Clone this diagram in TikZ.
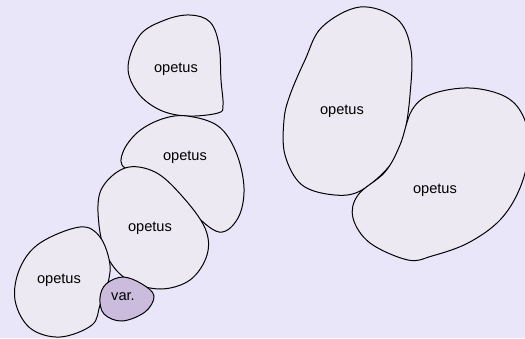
\documentclass[tikz,border=0pt]{standalone}
\usepackage{fontspec}
\setmainfont{Liberation Sans}
\definecolor{bgc}{HTML}{E9E6FA}
\definecolor{blobc}{HTML}{EDE9F2}
\definecolor{varc}{HTML}{CBBCDD}
\tikzset{
  blob/.style={draw=black, line width=1pt, fill=blobc},
  varblob/.style={draw=black, line width=1pt, fill=varc},
  lbl/.style={font=\fontsize{14.6}{16}\selectfont, inner sep=0pt},
}
\begin{document}
\begin{tikzpicture}[x=1pt,y=-1pt]
\fill[bgc] (0,0) rectangle (525,338);
\useasboundingbox (0,0) rectangle (525,338);
% top middle blob
\draw[blob] plot[smooth cycle, tension=0.6] coordinates {(190,15) (210,22) (219,45) (221,80) (223,105) (218,113) (187,116) (160,110) (138,93) (128,67) (140,35) (165,20)};
% blob 2
\draw[blob] plot[smooth cycle, tension=0.6] coordinates {(187,116) (218,126) (236,152) (244,188) (238,218) (219,232) (190,210) (160,178) (125,168) (123,152) (138,132) (162,119)};
% blob 3
\draw[blob] plot[smooth cycle, tension=0.6] coordinates {(125,168) (155,172) (182,196) (205,228) (207,255) (190,280) (160,289) (128,280) (108,258) (99,225) (101,190)};
% blob 4
\draw[blob] plot[smooth cycle, tension=0.6] coordinates {(80,227) (100,237) (110,265) (106,290) (100,305) (92,325) (60,337) (30,328) (15,300) (20,268) (40,243)};
% var blob
\draw[varblob] plot[smooth cycle, tension=0.6] coordinates {(123,277) (142,284) (154,296) (145,312) (122,321) (104,314) (100,298) (106,284)};
% blob 5
\draw[blob] plot[smooth cycle, tension=0.6] coordinates {(360,7) (397,19) (411,50) (410,95) (404,135) (392,163) (362,190) (335,195) (302,185) (285,155) (284,120) (290,95) (305,60) (322,27)};
% blob 6
\draw[blob] plot[smooth cycle, tension=0.6] coordinates {(470,88) (506,97) (524,118) (529,150) (520,188) (500,220) (468,243) (432,256) (408,260) (370,243) (353,218) (358,195) (385,172) (400,145) (412,110) (432,94)};
\node[lbl] (t1) at (176,69) {opetus};
\node[lbl] (t2) at (185,157) {opetus};
\node[lbl] (t3) at (150,228) {opetus};
\node[lbl] (t4) at (59,280) {opetus};
\node[lbl] (t5) at (342,111) {opetus};
\node[lbl] (t6) at (435,190) {opetus};
\node[lbl] (tv) at (123,297) {var.};
\end{tikzpicture}
\end{document}
